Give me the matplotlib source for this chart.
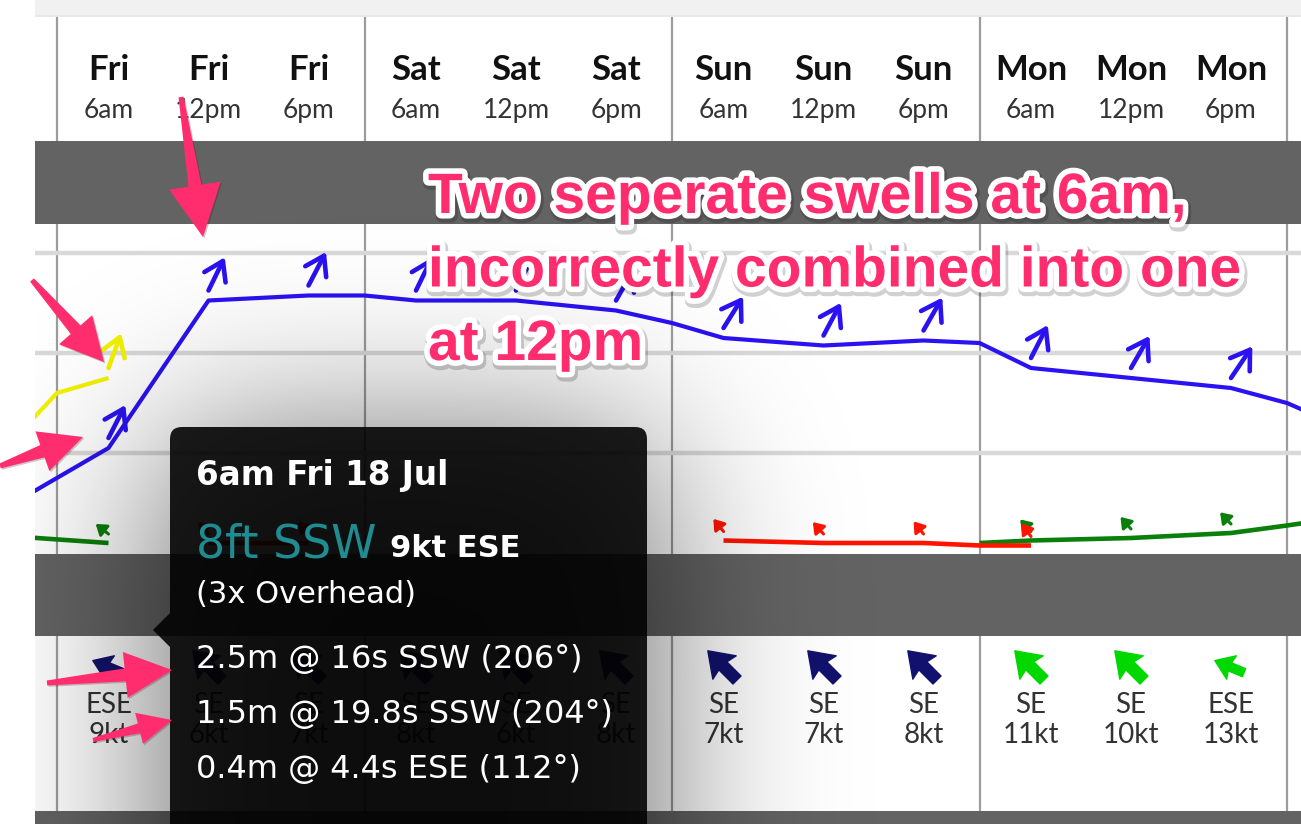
import math
import numpy as np
import matplotlib.pyplot as plt
import matplotlib.patheffects as pe
from matplotlib.patches import FancyBboxPatch, Polygon
from matplotlib.path import Path

plt.rcParams['font.family'] = ['Lato', 'DejaVu Sans']

W, H = 1301, 824
nan = np.nan

# forecast columns
days = ['Fri', 'Fri', 'Fri', 'Sat', 'Sat', 'Sat', 'Sun', 'Sun', 'Sun', 'Mon', 'Mon', 'Mon']
times = ['6am', '12pm', '6pm'] * 4
wind_dir = ['ESE', 'SE', 'SE', 'SE', 'SE', 'SE', 'SE', 'SE', 'SE', 'SE', 'SE', 'ESE']
wind_kt = [9, 6, 7, 8, 6, 8, 7, 7, 8, 11, 10, 13]
compass = {'SE': 135, 'ESE': 112.5}

# swell lines, x = column index (x.5 = midnight), height in ft, direction in deg (from)
blue_x = [-1, 0, 1, 2, 2.5, 3, 4, 5, 5.5, 6, 7, 8, 8.5, 9, 10, 11, 11.5, 12]
blue_ft = [5.7, 8.2, 14.1, 14.3, 14.3, 14.1, 14.1, 13.7, 13.2, 12.6, 12.3, 12.5, 12.4, 11.4, 11.0, 10.6, 10.0, 9.1]
blue_dir = [nan, 207, 206, 205, nan, 206, 206, 207, nan, 212, 208, 207, nan, 207, 210, 211, nan, nan]

yellow_x = [-1, -0.5, 0]
yellow_ft = [8.0, 10.4, 11.0]
yellow_dir = [nan, nan, 200]

green_x = [-1, 0, nan, 8.5, 9, 10, 11, 11.5, 12]
green_ft = [4.7, 4.4, nan, 4.4, 4.5, 4.6, 4.8, 5.1, 5.4]
green_dir = [nan, 129, nan, nan, 139, 139, 137, nan, nan]

red_x = [1, 2, nan, 6, 7, 8, 8.5, 9]
red_ft = [4.4, 4.4, nan, 4.5, 4.4, 4.4, 4.3, 4.3]
red_dir = [140, 140, nan, 142, 138, 142, nan, 145]

grid_ft = [8, 12, 16]

tip_title = '6am Fri 18 Jul'
tip_main = '8ft SSW'
tip_wind = '9kt ESE'
tip_face = '(3x Overhead)'
tip_swells = ['2.5m @ 16s SSW (206°)', '1.5m @ 19.8s SSW (204°)', '0.4m @ 4.4s ESE (112°)']

note_lines = ['Two seperate swells at 6am,', 'incorrectly combined into one', 'at 12pm']

# column index -> px: 3 columns of 100px per day, days 307.5px wide
kx, kp = [], []
for d in range(-2, 6):
    b = 57 + 307.5 * d
    kx += [3 * d - 0.5, 3 * d, 3 * d + 2]
    kp += [b, b + 51.5, b + 251.5]
def fwd(v):
    return np.interp(v, kx, kp)
def inv(v):
    return np.interp(v, kp, kx)

XL, XR = inv(35), inv(W)
FT_PX = 25.0
CW = 100.0

fig = plt.figure(figsize=(W / 100, H / 100), dpi=100)
fig.patch.set_facecolor('white')

ax = fig.add_axes([35 / W, 0, 1 - 35 / W, 1])
ax.set_xscale('function', functions=(fwd, inv))
ax.set_xlim(XL, XR)
ax.set_ylim(H, 0)
ax.axis('off')
ax.set_zorder(0)

band = '#636363'
ax.axhspan(0, 15, color='#f1f1f1', lw=0)
ax.axhspan(15, 17, color='#e8e8e8', lw=0)
ax.axhspan(141, 224, color=band, lw=0)
ax.axhspan(554, 636, color=band, lw=0)
ax.axhspan(811, H, color=band, lw=0)

day_edges = [-0.5, 2.5, 5.5, 8.5, 11.5]
for y0, y1 in [(17, 141), (224, 554), (636, 811)]:
    ax.vlines(day_edges, y0, y1, color='#9c9c9c', lw=1.6)

for i in range(len(days)):
    ax.text(i, 80, days[i], ha='center', va='baseline', fontsize=25, fontweight='bold', color='#111111')
    ax.text(i, 118, times[i], ha='center', va='baseline', fontsize=19, color='#333333')
    ax.text(i, 713, wind_dir[i], ha='center', va='baseline', fontsize=20, color='#333333')
    ax.text(i, 743, f'{wind_kt[i]}kt', ha='center', va='baseline', fontsize=20, color='#333333')

base = np.array([(0, 1), (0.7, 0.0), (0.24, 0.1), (0.24, -0.75), (-0.24, -0.75), (-0.24, 0.1), (-0.7, 0.0), (0, 1)])
def wind_marker(frm):
    t = -math.radians(frm + 180)
    c, s = math.cos(t), math.sin(t)
    v = np.column_stack([base[:, 0] * c - base[:, 1] * s, base[:, 0] * s + base[:, 1] * c])
    return Path(v, closed=True)

for i in range(len(wind_kt)):
    clr = '#00d800' if wind_kt[i] >= 10 else '#12126e'
    ax.plot(i, 667, marker=wind_marker(compass[wind_dir[i]]), ms=24, color=clr, ls='none')

# swell chart
axc = fig.add_axes([35 / W, (H - 555) / H, 1 - 35 / W, 331 / H])
axc.set_xscale('function', functions=(fwd, inv))
axc.set_xlim(XL, XR)
axc.set_ylim(8 - (555 - 453) / FT_PX, 8 + (453 - 224) / FT_PX)
axc.axis('off')
axc.set_zorder(1)
axc.hlines(grid_ft, XL, XR, color='#d9d9d9', lw=3.2, zorder=1)

def swell(xs, ft, dirs, clr, big):
    axc.plot(xs, ft, color=clr, lw=3.0 if big else 3.3, solid_capstyle='butt', zorder=3)
    L, gap = (37, 10) if big else (16, 9)
    for x, h, d in zip(xs, ft, dirs):
        if np.isnan(d):
            continue
        az = math.radians(d + 180)
        tail = (x, h + gap / FT_PX)
        head = (x + L * math.sin(az) / CW, h + (gap + L * math.cos(az)) / FT_PX)
        if big:
            st, lw = '->,head_length=1.3,head_width=0.85', 3.3
        else:
            st, lw = '-|>,head_length=0.6,head_width=0.42', 2.2
        axc.annotate('', xy=head, xytext=tail,
                     arrowprops=dict(arrowstyle=st, color=clr, lw=lw, shrinkA=0, shrinkB=0))

swell(green_x, green_ft, green_dir, '#0a800a', False)
swell(red_x, red_ft, red_dir, '#ff1400', False)
swell(yellow_x, yellow_ft, yellow_dir, '#f2f200', True)
swell(blue_x, blue_ft, blue_dir, '#2a12f2', True)

# tooltip shadow
axs = fig.add_axes([35 / W, 0, 1 - 35 / W, 1])
axs.set_xlim(35, W)
axs.set_ylim(H, 0)
axs.axis('off')
axs.set_zorder(2)
erf = np.vectorize(math.erf)
sig = 90 * math.sqrt(2)
xs = np.arange(35, W) + 0.5
ys = np.arange(H) + 0.5
gx = 0.5 * (erf((xs - 165) / sig) - erf((xs - 652) / sig))
gy = 0.5 * (erf((ys - 440) / sig) - erf((ys - 1200) / sig))
img = np.zeros((H, W - 35, 4))
img[..., 3] = 0.6 * np.outer(gy, gx)
axs.imshow(img, extent=(35, W, H, 0), aspect='auto', interpolation='bilinear')

# tooltip + annotations
axt = fig.add_axes([0, 0, 1, 1])
axt.set_xlim(0, W)
axt.set_ylim(H, 0)
axt.axis('off')
axt.set_zorder(3)

axt.add_patch(FancyBboxPatch((170, 427), 477, 500, boxstyle='round,pad=0,rounding_size=12',
                             fc='#030303', ec='none', alpha=0.9))
axt.add_patch(Polygon([(153, 630), (170, 613), (170, 647)], closed=True, fc='#030303', ec='none', alpha=0.9))

tf = 'DejaVu Sans'
axt.text(196, 485, tip_title, fontsize=23.5, fontweight='bold', color='white', va='baseline', family=tf)
axt.text(196, 557, tip_main, fontsize=33, color='#1f8c91', va='baseline', family=tf)
axt.text(390, 557, tip_wind, fontsize=22, fontweight='bold', color='white', va='baseline', family=tf)
axt.text(196, 603, tip_face, fontsize=22, color='white', va='baseline', family=tf)
for k, s in enumerate(tip_swells):
    axt.text(196, 668 + 55 * k, s, fontsize=23, color='white', va='baseline', family=tf)

pink = '#ff2d6e'
def pink_arrow(T, P, hl, hw, tw0=2.5, tw1=6.5):
    T, P = np.array(T, float), np.array(P, float)
    u = (P - T) / np.hypot(*(P - T))
    n = np.array([-u[1], u[0]])
    B = P - u * hl
    pts = [T + n * tw0, B + n * tw1, B + n * hw, P, B - n * hw, B - n * tw1, T - n * tw0]
    axt.add_patch(Polygon(pts, closed=True, fc=pink, ec='none',
                          path_effects=[pe.SimplePatchShadow(offset=(1, -1), alpha=0.25), pe.Normal()]))

pink_arrow((181, 97), (203, 237), 52, 26)
pink_arrow((32, 280), (104, 362), 43, 22)
pink_arrow((0, 466), (83, 437), 43, 21)
pink_arrow((47, 683), (172, 670), 47, 23)
pink_arrow((93, 740), (172, 720), 34, 16, tw0=2, tw1=5)

fx = [pe.Stroke(linewidth=10, foreground=(0, 0, 0, 0.18), offset=(1, -2)),
      pe.Stroke(linewidth=8, foreground='white'), pe.Normal()]
for k, line in enumerate(note_lines):
    axt.text(428, 213 + 73.5 * k, line, fontsize=41, fontweight='bold', color=pink,
             family='Liberation Sans', va='baseline', path_effects=fx)

fig.savefig('out.png', dpi=100)
